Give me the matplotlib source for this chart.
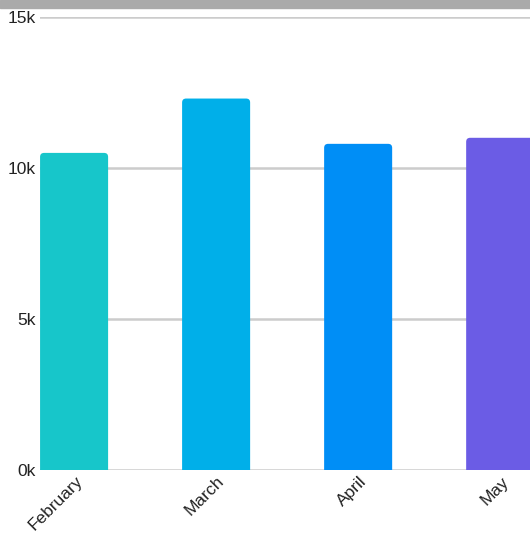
import matplotlib
matplotlib.use("Agg")
import matplotlib.pyplot as plt
from matplotlib.patches import FancyBboxPatch, Rectangle
from matplotlib.transforms import IdentityTransform

plt.rcParams['font.family'] = ['Liberation Sans', 'DejaVu Sans']

months = ["February", "March", "April", "May"]
values = [10500, 12300, 10800, 11000]
colors = ["#17C6CA", "#00AFE9", "#008EF6", "#6B5CE5"]
y_ticks = [0, 5000, 10000, 15000]
y_labels = ["0k", "5k", "10k", "15k"]

W, H, DPI = 530, 533, 100
fig = plt.figure(figsize=(W / DPI, H / DPI), dpi=DPI)
ax = fig.add_axes([40 / W, (H - 470) / H, 490 / W, 453 / H])

x = list(range(len(months)))
bars = ax.bar(x, values, width=0.479, color=colors)
ax.set_xlim(-0.24, 3.21)
ax.set_ylim(0, 15000)

ax.set_yticks(y_ticks)
ax.set_yticklabels(y_labels, fontsize=12.5, color="#222222")
ax.set_xticks(x)
ax.set_xticklabels([])
ax.tick_params(axis="both", length=0)
ax.tick_params(axis="y", pad=3)

# rotated category labels under each bar
for xi, m in zip(x, months):
    ax.annotate(m, xy=(xi, 0), xycoords=("data", "axes fraction"),
                xytext=(6, -9), textcoords="offset pixels",
                fontsize=12.5, color="#222222", rotation=45,
                ha="right", va="center", rotation_mode="anchor",
                annotation_clip=False)

ax.grid(axis="y", color="#cccccc", linewidth=1.8)
ax.set_axisbelow(True)
for s in ax.spines.values():
    s.set_visible(False)

# top band across the figure
fig.patches.append(Rectangle((0, 1 - 8 / H), 1, 8 / H, transform=fig.transFigure,
                             color="#aaaaaa", zorder=0))

# replace the plain bars with bars that have rounded top corners
fig.canvas.draw()
for b, c in zip(bars, colors):
    bb = b.get_window_extent()
    rp = FancyBboxPatch((bb.x0, bb.y0 - 10), bb.width, bb.height + 10,
                        boxstyle="round,pad=0,rounding_size=4",
                        transform=IdentityTransform(), facecolor=c,
                        edgecolor="none", zorder=3)
    rp.set_clip_path(ax.patch)
    ax.add_artist(rp)
    b.set_visible(False)

fig.savefig("out.png", dpi=DPI)
